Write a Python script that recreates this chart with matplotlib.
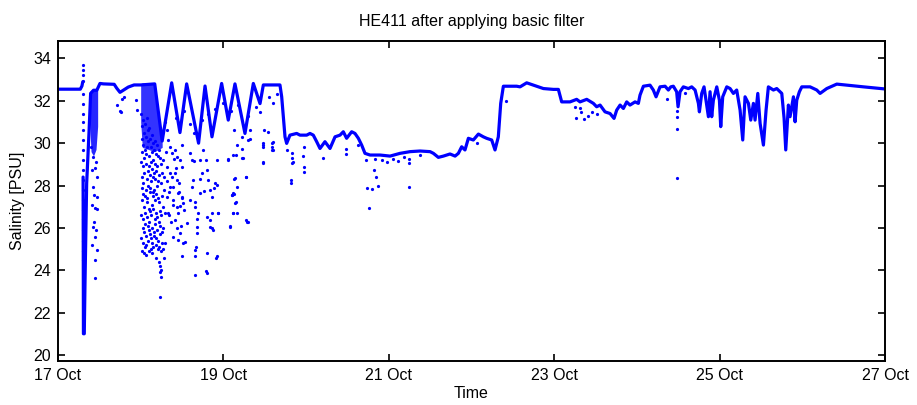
"""
HE411 salinity record after the basic filter.
Values read off the reference plot (days since 17 Oct 00:00).
"""
import datetime as dt
import matplotlib
matplotlib.use("Agg")
import matplotlib.pyplot as plt
import matplotlib.dates as mdates
import numpy as np

nan = np.nan

# main trace
line_days = [0.00, 0.27, 0.29, 0.30, nan, 0.304, 0.308, 0.318, 0.327, 0.347, 0.375, 0.395,
             0.43, 0.47, 0.508, 0.55, 0.68, 0.71, 0.75, 0.79, 0.85, 0.92, 1.00,
             1.17, 1.26, 1.375, 1.475, 1.556, 1.70, 1.778, 1.862, 1.979, 2.059, 2.14,
             2.261, 2.362, 2.443, 2.483, 2.684, 2.705, 2.745, 2.765,
             2.805, 2.886, 2.926, 3.007, 3.047, 3.087, 3.128, 3.168, 3.228, 3.289, 3.35,
             3.41, 3.45, 3.49, 3.551, 3.591, 3.632, 3.672, 3.712, 3.773, 3.894, 4.015,
             4.136, 4.257, 4.378, 4.499,
             4.539, 4.599, 4.66, 4.74, 4.801, 4.841, 4.881, 4.921, 4.962, 5.022, 5.083,
             5.143, 5.183, 5.244, 5.284, 5.324, 5.353, 5.385, 5.466, 5.546, 5.587, 5.667,
             5.748, 5.869, 5.99, 6.05, 6.09, 6.191, 6.271, 6.312, 6.393, 6.473, 6.513,
             6.554, 6.614, 6.675, 6.723, 6.755, 6.796, 6.836, 6.876, 6.916, 6.977, 7.017,
             7.037, 7.078, 7.158, 7.198, 7.231, 7.279, 7.34, 7.38, 7.409, 7.44, 7.48,
             7.497, 7.521, 7.561, 7.622, 7.662, 7.703, 7.743, 7.755, 7.783, 7.811, 7.844,
             7.864, 7.884, 7.904, 7.924, 7.965, 7.997, 8.013, 8.037, 8.086, 8.126, 8.166,
             8.206, 8.247, 8.279, 8.307, 8.348, 8.376, 8.408, 8.428, 8.461, 8.489, 8.529,
             8.561, 8.589, 8.65, 8.69, 8.751, 8.779, 8.799, 8.831, 8.851, 8.892, 8.912,
             8.932, 8.964, 8.993, 9.093, 9.174, 9.214, 9.295, 9.416, 9.537, 9.739, 10.0]
line_psu = [32.55, 32.55, 32.7, 32.9, nan, 28.4, 21.0, 21.0, 23.4, 28.1, 30.46, 32.35,
            32.5, 32.5, 32.82, 32.8, 32.78, 32.6, 32.4, 32.5, 32.65, 32.75, 32.75,
            32.8, 30.1, 32.85, 30.5, 32.8, 30.0, 32.7, 30.3, 32.82, 31.09, 32.8,
            30.46, 32.82, 31.87, 32.75, 32.75, 32.19, 30.3, 29.99,
            30.38, 30.46, 30.38, 30.38, 30.46, 30.38, 30.07, 29.75, 30.07, 29.75, 30.3,
            30.38, 30.54, 30.23, 30.54, 30.46, 30.23, 29.91, 29.52, 29.44, 29.44, 29.39,
            29.52, 29.6, 29.63, 29.6,
            29.52, 29.33, 29.39, 29.49, 29.39, 29.52, 29.83, 29.68, 30.23, 30.15, 30.43,
            30.3, 30.23, 30.15, 29.68, 30.3, 31.88, 32.69, 32.69, 32.69, 32.66, 32.85,
            32.74, 32.58, 32.54, 32.54, 31.95, 31.95, 32.07, 31.95, 32.07, 31.88, 31.72,
            31.8, 31.48, 31.4, 31.17, 31.56, 31.8, 31.64, 31.95, 31.8, 31.95, 31.88,
            32.27, 32.69, 32.74, 32.51, 32.19, 32.66, 32.69, 32.51, 32.66, 32.69, 32.43,
            31.72, 32.43, 32.66, 32.58, 32.66, 32.51, 31.88, 31.48, 32.35, 32.66, 31.8,
            31.25, 32.43, 31.25, 32.03, 32.66, 32.03, 30.78, 32.19, 32.66, 32.58, 32.35,
            32.51, 31.56, 30.15, 32.19, 31.88, 31.09, 31.88, 31.09, 32.35, 30.93, 29.91,
            31.56, 32.66, 32.51, 32.58, 32.35, 31.17, 29.68, 31.8, 31.25, 32.19, 31.01,
            32.03, 32.43, 32.66, 32.66, 32.51, 32.35, 32.58, 32.79, 32.74, 32.66, 32.56]

# densely sampled patches (solid blue in the plot)
wedge_days = [0.375, 0.40, 0.43, 0.46, 0.48]
wedge_hi = [32.4, 32.5, 32.5, 32.5, 32.6]
wedge_lo = [31.6, 29.6, 29.4, 29.7, 30.8]
block_days = [1.00, 1.02, 1.17, 1.26]
block_hi = [32.8, 32.85, 32.8, 30.0]
block_lo = [31.0, 29.8, 29.6, 29.8]

# the spike at 17 Oct 07:00
spike_day = 0.302
spike_psu = [33.68, 33.45, 33.2, 32.95, 32.3, 31.85, 31.4, 31.0, 30.6, 30.15, 29.7,
             29.2, 28.75, 28.25, 27.8, 27.3, 26.85, 26.4, 25.9, 25.4, 24.9, 24.5]

# outliers just after the spike and along 17 Oct
early_days = [0.427, 0.447, 0.407, 0.468, 0.427, 0.435, 0.468, 0.415, 0.447, 0.476,
              0.427, 0.447, 0.415, 0.468, 0.447, 0.447, 0.40, 0.455, 0.44, 0.46,
              0.71, 0.75, 0.758, 0.77, 0.80, 0.94, 0.95]
early_psu = [29.36, 28.81, 28.73, 28.42, 27.95, 27.55, 27.47, 27.08, 26.92, 26.88,
             26.06, 25.59, 25.2, 24.96, 24.49, 23.62, 29.8, 29.1, 26.3, 25.9,
             31.8, 31.5, 31.45, 32.1, 32.2, 32.06, 31.56]

# big cloud on 18 Oct morning
cloud_days = [1.004, 1.011, 1.006, 1.013, 1.002, 1.009,
              1.017, 1.021, 1.014, 1.019, 1.023, 1.016,
              1.028, 1.024, 1.031, 1.026, 1.029, 1.033,
              1.036, 1.041, 1.034, 1.039, 1.044, 1.037,
              1.048, 1.052, 1.046, 1.055, 1.049, 1.053,
              1.059, 1.064, 1.061, 1.057, 1.066, 1.062,
              1.071, 1.068, 1.075, 1.072, 1.078, 1.069,
              1.083, 1.079, 1.086, 1.081, 1.088, 1.084,
              1.093, 1.097, 1.091, 1.099, 1.095, 1.101,
              1.106, 1.103, 1.109, 1.112, 1.104, 1.108,
              1.116, 1.121, 1.118, 1.114, 1.123, 1.119,
              1.128, 1.131, 1.126, 1.134, 1.129, 1.136,
              1.141, 1.138, 1.144, 1.146, 1.139, 1.143,
              1.152, 1.149, 1.155, 1.151, 1.157, 1.154,
              1.163, 1.161, 1.166, 1.168, 1.164,
              1.173, 1.177, 1.171, 1.179, 1.175, 1.181,
              1.186, 1.183, 1.189, 1.191, 1.185, 1.188,
              1.198, 1.195, 1.201, 1.203, 1.197, 1.206,
              1.211, 1.214, 1.209, 1.216, 1.212, 1.218,
              1.223, 1.226, 1.221, 1.229, 1.224, 1.231,
              1.236, 1.241, 1.238, 1.234, 1.243, 1.239,
              1.248, 1.252, 1.246, 1.254, 1.249, 1.251,
              1.259, 1.264, 1.261, 1.266,
              1.272, 1.277, 1.274, 1.279,
              1.285, 1.289, 1.292,
              1.235]
cloud_psu = [31.4, 30.2, 29.1, 27.9, 26.6, 25.5,
             30.8, 29.6, 28.4, 27.3, 26.0, 24.9,
             31.1, 29.9, 28.9, 27.6, 26.4, 25.3,
             30.5, 29.3, 28.1, 27.0, 25.8, 24.8,
             30.9, 29.7, 28.6, 27.5, 26.2, 25.1,
             30.3, 29.0, 27.8, 26.7, 25.6, 24.7,
             31.2, 29.5, 28.3, 27.2, 26.5, 25.2,
             30.6, 29.8, 28.7, 27.4, 26.1, 25.4,
             30.1, 28.9, 28.0, 26.9, 25.9, 24.9,
             30.7, 29.4, 28.5, 27.7, 26.3, 25.7,
             30.2, 29.1, 27.9, 26.8, 25.5, 25.0,
             29.8, 28.8, 28.2, 27.1, 26.6, 25.3,
             30.4, 29.6, 28.4, 27.5, 26.0, 24.8,
             30.0, 29.2, 27.7, 26.9, 25.8, 25.1,
             29.7, 28.6, 27.8, 26.4, 25.6,
             30.1, 29.0, 28.3, 27.3, 26.2, 25.2,
             29.5, 28.7, 27.6, 26.7, 25.5, 24.6,
             29.9, 28.9, 28.0, 26.5, 25.9, 25.0,
             29.4, 28.2, 27.4, 26.3, 25.4, 24.4,
             29.7, 28.5, 27.2, 26.1, 25.1, 24.2,
             29.3, 28.1, 26.8, 25.7, 24.9, 23.9,
             29.0, 27.5, 26.6, 25.3, 24.0, 23.7,
             28.6, 27.0, 25.8, 25.0,
             29.2, 27.8, 26.0, 24.6,
             28.4, 26.7, 25.3,
             22.75]

# scattered outliers 18-19 Oct
scat_days = [1.334, 1.354, 1.374, 1.415, 1.435, 1.314, 1.354, 1.475, 1.495, 1.435,
             1.394, 1.455, 1.495, 1.515, 1.435, 1.455, 1.415, 1.475, 1.455, 1.515,
             1.495, 1.394, 1.334, 1.314, 1.596, 1.616, 1.637, 1.616, 1.596, 1.657,
             1.677, 1.677, 1.697, 1.669, 1.657, 1.717, 1.737, 1.717, 1.757, 1.79,
             1.798, 1.818, 1.838, 1.858, 1.858, 1.838, 1.858, 1.878, 1.798, 1.798,
             1.661, 1.927, 1.939, 1.898, 1.919, 2.06, 2.12, 2.14, 2.12, 2.10,
             2.14, 2.08, 2.12, 2.281, 2.273, 2.233, 2.22, 2.302, 2.322, 2.443,
             2.483, 2.483, 2.596, 2.604, 2.475,
             1.398, 1.43, 1.46, 1.50, 1.472, 1.52, 1.56, 1.536, 1.378, 1.35,
             1.338, 1.39, 1.64, 1.652, 1.682, 1.66, 1.72, 1.76, 1.80, 1.842,
             1.795, 1.915, 1.882,
             1.30, 1.32, 1.43, 1.52, 1.60, 1.65, 1.74, 1.82, 1.90, 2.00,
             2.09, 2.18, 2.30, 2.40, 2.55, 2.65, 2.60,
             2.059, 2.13, 2.16, 2.149, 2.229, 2.229, 2.273, 2.322, 2.495, 2.544,
             2.592, 2.592, 2.592, 2.483, 2.483, 1.926, 1.938, 2.132, 2.16, 2.10,
             2.13, 2.149, 2.12, 2.16, 2.08, 2.273, 2.293,
             1.305, 1.322, 1.345, 1.362, 1.385, 1.41, 1.445, 1.465, 1.488, 1.505]
scat_psu = [30.15, 29.83, 29.52, 29.68, 29.36, 28.89, 28.57, 29.2, 28.89, 28.26,
            27.95, 27.63, 27.48, 27.16, 27.0, 26.69, 26.37, 25.75, 25.43, 25.27,
            24.65, 27.32, 26.69, 27.48, 29.52, 29.2, 28.26, 27.95, 27.32, 27.0,
            26.06, 25.75, 26.69, 25.12, 24.65, 27.63, 28.57, 29.2, 29.68, 29.2,
            28.73, 28.26, 27.79, 27.48, 26.69, 26.37, 25.98, 25.9, 24.8, 23.86,
            23.78, 24.65, 26.69, 28.1, 29.2, 29.2, 29.44, 28.34, 27.63, 27.55,
            27.16, 26.06, 26.69, 26.3, 28.42, 29.28, 30.3, 30.15, 30.62, 31.48,
            29.99, 29.83, 30.07, 29.68, 29.12,
            29.25, 28.85, 27.7, 27.42, 27.05, 26.84, 26.22, 25.35, 28.42, 27.95,
            26.6, 25.59, 29.15, 27.2, 26.4, 24.96, 28.3, 27.75, 26.5, 26.06,
            23.94, 24.6, 27.9,
            31.0, 30.6, 31.2, 31.5, 30.9, 30.5, 31.1, 31.4, 31.6, 31.9,
            31.5, 31.8, 31.3, 31.7, 32.2, 32.3, 31.9,
            29.23, 30.62, 29.91, 29.44, 29.72, 29.28, 28.42, 30.22, 30.62, 30.54,
            30.02, 29.83, 29.67, 29.91, 29.08, 28.02, 26.69, 28.29, 27.95, 27.55,
            27.6, 27.2, 26.72, 26.69, 26.09, 26.37, 26.29,
            29.6, 28.2, 27.7, 26.3, 27.1, 28.6, 26.0, 28.1, 26.1, 29.9]

# outliers 19.7 - 25 Oct
late_days = [2.765, 2.825, 2.837, 2.817, 2.817, 2.833, 2.829, 2.975, 2.967, 2.975,
             2.975, 3.208, 3.482, 3.482, 3.632, 3.725, 3.741, 3.821, 3.841, 3.865,
             3.793, 3.765, 3.833, 3.914, 3.974, 4.055, 4.115, 4.184, 4.248, 4.248,
             4.248, 4.378, 5.063, 5.417, 6.252, 6.264, 6.312, 6.32, 6.36, 6.413,
             6.461, 6.514, 7.489, 7.489, 7.489, 7.489, 7.36, 7.58]
late_psu = [29.68, 29.52, 29.12, 28.26, 28.13, 29.28, 29.05, 29.8, 29.41, 28.89,
            28.65, 29.28, 29.71, 29.47, 29.91, 29.2, 27.87, 28.73, 28.42, 27.98,
            27.82, 26.96, 29.23, 29.2, 29.12, 29.23, 29.17, 29.33, 29.23, 29.08,
            27.95, 29.42, 29.99, 32.0, 31.69, 31.17, 31.64, 31.48, 31.12, 31.28,
            31.48, 31.4, 31.51, 31.25, 30.65, 28.34, 32.11, 32.38]

blue = "#0000ff"
t0 = mdates.date2num(dt.datetime(2013, 10, 17))


def t(days):
    return t0 + np.asarray(days, dtype=float)


plt.rcParams["font.family"] = ["Liberation Sans", "DejaVu Sans"]
fig = plt.figure(figsize=(9.17, 4.05), dpi=100)
ax = fig.add_axes([0.0632, 0.109, 0.902, 0.79])

ax.fill_between(t(wedge_days), wedge_lo, wedge_hi, color=blue, lw=0, alpha=0.85)
ax.fill_between(t(block_days), block_lo, block_hi, color=blue, lw=0, alpha=0.8)
ax.plot(t(line_days), line_psu, color=blue, lw=2.3,
        solid_joinstyle="round", solid_capstyle="round")

dots = dict(ls="none", marker="o", ms=2.3, mew=0, color=blue)
ax.plot(t([spike_day] * len(spike_psu)), spike_psu, **dots)
ax.plot(t(early_days), early_psu, **dots)
ax.plot(t(cloud_days), cloud_psu, **dots)
ax.plot(t(scat_days), scat_psu, **dots)
ax.plot(t(late_days), late_psu, **dots)

ax.set_xlim(t0, t0 + 10)
ax.set_ylim(19.72, 34.83)
ax.set_yticks(np.arange(20, 35, 2))
ax.xaxis.set_major_locator(mdates.DayLocator(bymonthday=[17, 19, 21, 23, 25, 27]))
ax.xaxis.set_major_formatter(mdates.DateFormatter("%d %b"))
ax.tick_params(direction="in", top=True, right=True, length=5, width=1.2,
               labelsize=11.5, pad=5)
for sp in ax.spines.values():
    sp.set_linewidth(1.4)

ax.set_xlabel("Time", fontsize=11.5, labelpad=2)
ax.set_ylabel("Salinity [PSU]", fontsize=11.5, labelpad=6)
ax.set_title("HE411 after applying basic filter", fontsize=11.5, pad=11)

fig.savefig("out.png", dpi=100)
